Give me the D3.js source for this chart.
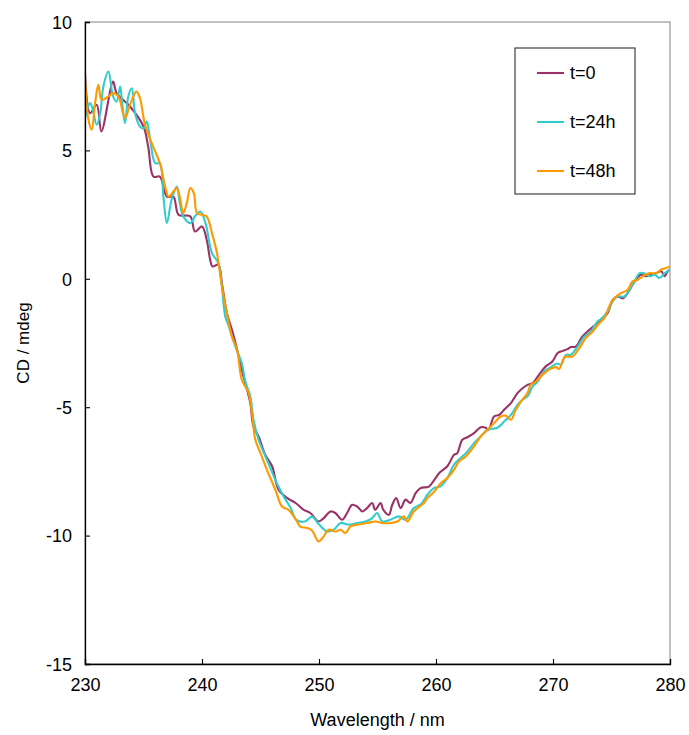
<!DOCTYPE html>
<html><head><meta charset="utf-8">
<script src="https://cdn.jsdelivr.net/npm/d3@7"></script>
<style>body{margin:0;background:#fff}svg{display:block}text{font-family:"Liberation Sans",Arial,sans-serif;fill:#000}</style>
</head><body><svg id="c" width="689" height="735"></svg>
<script>
const seriesNames = ["t=0","t=24h","t=48h"];
const seriesColors = ["#993366","#33CCCC","#FF9900"];
const xTicks = [230,240,250,260,270,280];
const yTicks = [10,5,0,-5,-10,-15];

const wl0 = [230.0,230.43,231.0,231.4,232.4,232.7,233.85,235.0,235.4,235.85,236.4,237.0,237.56,238.0,239.0,239.4,240.0,240.4,240.7,240.9,241.4,241.7,242.13,242.56,243.0,243.4,243.85,244.13,244.4,244.84,245.4,246.0,246.55,247.3,248.0,248.7,249.26,249.97,250.4,250.98,251.4,251.98,252.4,252.83,253.27,253.7,254.1,254.55,254.8,255.26,255.5,255.97,256.26,256.6,256.98,257.4,257.8,258.26,258.68,259.4,259.9,260.3,260.97,261.54,261.8,262.25,262.68,263.25,263.82,264.25,264.5,264.96,265.4,265.82,266.4,266.96,267.4,267.82,268.26,268.8,269.38,269.95,270.38,270.67,271.24,271.52,271.95,272.5,273.1,273.64,274.23,274.66,275.1,275.5,275.96,276.38,276.8,277.2,277.5,277.95,278.4,278.8,279.25,279.55,279.8,280.0];
const cd0 = [8.0,6.45,6.78,5.74,7.68,7.23,6.71,5.93,5.15,3.98,3.98,3.2,3.2,2.49,2.43,1.84,2.04,1.52,0.74,0.48,0.55,-0.17,-1.34,-1.99,-2.76,-3.54,-4.32,-4.84,-5.75,-6.14,-6.85,-7.31,-8.22,-8.54,-8.73,-9.0,-9.12,-9.45,-9.32,-9.06,-9.12,-9.38,-9.12,-8.8,-8.87,-9.06,-8.93,-8.73,-9.0,-8.73,-9.0,-9.19,-8.8,-8.54,-8.93,-8.6,-8.73,-8.35,-8.15,-8.09,-7.8,-7.55,-7.3,-6.85,-6.8,-6.27,-6.17,-6.01,-5.78,-5.8,-5.88,-5.36,-5.3,-5.1,-4.84,-4.45,-4.26,-4.13,-4.06,-3.74,-3.41,-3.22,-2.9,-2.83,-2.74,-2.66,-2.64,-2.25,-1.99,-1.79,-1.53,-1.34,-0.82,-0.69,-0.76,-0.56,-0.23,0.03,0.16,0.1,0.16,0.22,0.29,0.1,0.29,0.36];

const wl24 = [230.0,230.43,230.6,231.0,231.3,231.57,232.0,232.4,232.7,233.0,233.15,233.42,233.7,234.0,234.28,234.7,235.0,235.28,235.57,236.0,236.4,236.7,237.0,237.4,237.85,238.1,238.4,239.0,239.4,239.85,240.3,240.85,241.4,241.7,241.99,242.3,242.85,243.4,243.7,244.13,244.4,244.84,245.55,246.4,246.98,247.55,248.1,248.8,249.4,249.97,250.69,251.26,251.84,252.55,253.27,253.97,254.55,254.97,255.4,256.1,256.83,257.4,258.1,258.75,259.26,259.82,260.35,260.97,261.54,262.1,262.68,263.25,263.82,264.4,265.25,265.82,266.4,266.96,267.4,267.82,268.26,268.7,269.24,269.8,270.38,270.67,271.1,271.52,272.1,272.68,273.25,273.8,274.23,274.66,275.1,275.5,276.1,276.53,276.96,277.4,277.8,278.25,278.7,279.1,279.55,280.0];
const cd24 = [6.26,6.84,6.71,6.0,6.45,7.49,8.07,7.1,6.9,7.49,6.97,6.06,7.1,7.42,6.45,5.93,5.86,6.13,5.41,4.5,4.5,3.2,2.17,3.08,3.59,2.95,2.43,2.17,2.43,2.62,2.17,1.0,0.61,-0.3,-1.47,-1.86,-2.64,-3.28,-4.0,-4.58,-5.49,-6.27,-7.05,-7.96,-8.48,-8.9,-9.4,-9.45,-9.26,-9.55,-9.84,-9.77,-9.51,-9.58,-9.51,-9.45,-9.32,-9.12,-9.45,-9.38,-9.25,-9.38,-8.93,-8.76,-8.41,-8.15,-8.09,-7.76,-7.24,-6.98,-6.73,-6.4,-6.14,-5.88,-5.8,-5.56,-5.3,-4.91,-4.71,-4.58,-4.19,-4.0,-3.61,-3.45,-3.3,-3.35,-2.96,-2.96,-2.64,-2.25,-2.05,-1.66,-1.53,-1.27,-0.88,-0.69,-0.69,-0.43,-0.1,0.22,0.22,0.1,0.16,0.03,0.22,0.36];

const wl48 = [230.0,230.3,230.57,230.86,231.14,231.43,232.0,232.4,232.85,233.42,233.85,234.4,234.7,235.1,235.7,236.4,236.85,237.14,237.56,237.85,238.1,238.4,238.7,239.0,239.3,239.57,240.0,240.4,240.85,241.28,241.7,242.13,242.56,243.0,243.4,243.98,244.27,244.56,245.0,245.55,246.27,246.84,247.4,248.05,248.4,248.97,249.4,249.97,250.4,250.83,251.4,251.84,252.26,252.7,253.27,254.1,254.83,255.4,256.1,256.7,257.26,257.55,258.1,258.97,259.26,259.82,260.4,260.97,261.54,261.97,262.54,263.25,263.82,264.4,264.96,265.54,265.97,266.4,266.82,267.26,267.82,268.1,268.55,269.1,269.67,270.24,270.53,271.0,271.67,272.25,272.8,273.4,273.95,274.4,274.8,275.24,275.8,276.38,276.8,277.24,277.67,278.25,278.8,279.25,279.67,280.0];
const cd48 = [7.81,6.19,5.8,6.84,7.55,6.97,7.1,7.23,7.1,6.26,6.78,7.29,7.03,6.06,5.28,4.5,3.59,3.2,3.4,3.53,3.2,2.56,2.95,3.53,3.34,2.56,2.49,2.43,1.78,1.0,-0.3,-1.34,-2.25,-2.76,-3.93,-4.45,-5.23,-6.27,-6.79,-7.44,-8.22,-8.87,-9.0,-9.4,-9.65,-9.7,-9.8,-10.23,-10.03,-9.77,-9.84,-9.77,-9.9,-9.64,-9.58,-9.51,-9.45,-9.51,-9.51,-9.45,-9.25,-9.45,-9.06,-8.73,-8.54,-8.3,-7.96,-7.76,-7.44,-7.11,-6.92,-6.53,-6.14,-5.88,-5.62,-5.36,-5.33,-5.49,-5.1,-4.78,-4.45,-4.13,-4.0,-3.74,-3.54,-3.44,-3.51,-3.05,-3.02,-2.7,-2.31,-2.05,-1.73,-1.53,-1.08,-0.76,-0.56,-0.43,-0.1,-0.04,0.1,0.22,0.22,0.36,0.42,0.48];

const series = [
  {name: seriesNames[0], color: seriesColors[0], wl: wl0, cd: cd0},
  {name: seriesNames[1], color: seriesColors[1], wl: wl24, cd: cd24},
  {name: seriesNames[2], color: seriesColors[2], wl: wl48, cd: cd48}
];

const svg = d3.select("#c");
const L = 85, R = 670, T = 22, B = 664;
const x = d3.scaleLinear().domain([230,280]).range([L,R]);
const y = d3.scaleLinear().domain([-15,10]).range([B,T]);

// plot area border (gray)
svg.append("rect").attr("x",L).attr("y",T).attr("width",R-L).attr("height",B-T)
  .attr("fill","none").attr("stroke","#a0a0a0").attr("stroke-width",1.3);

// lines
svg.append("clipPath").attr("id","pc").append("rect")
  .attr("x",L).attr("y",T).attr("width",R-L).attr("height",B-T);
const line = d3.line().x(d=>x(d[0])).y(d=>y(d[1])).curve(d3.curveCatmullRom.alpha(0.5));
series.forEach(s=>{
  const pts = s.wl.map((w,i)=>[w,s.cd[i]]);
  svg.append("path").attr("d",line(pts)).attr("fill","none")
    .attr("stroke",s.color).attr("stroke-width",2.1).attr("stroke-linejoin","round")
    .attr("clip-path","url(#pc)");
});

// axes
const fmt = v => String(v);
const xAxis = d3.axisBottom(x).tickValues(xTicks).tickFormat(fmt).tickSize(-5).tickPadding(14);
const yAxis = d3.axisLeft(y).tickValues(yTicks).tickFormat(fmt).tickSize(-5).tickPadding(13);
const gx = svg.append("g").attr("transform",`translate(0,${B})`).call(xAxis);
const gy = svg.append("g").attr("transform",`translate(${L},0)`).call(yAxis);
[gx,gy].forEach(g=>{
  g.select(".domain").attr("stroke","#000").attr("stroke-width",1.3);
  g.selectAll(".tick line").attr("stroke","#000").attr("stroke-width",1.1);
  g.selectAll(".tick text").style("font-size","18px").style("font-family","'Liberation Sans',Arial,sans-serif").attr("fill","#000");
});
gy.selectAll(".tick text").attr("dy","0.35em");

svg.append("text").attr("x",(L+R)/2).attr("y",726).attr("text-anchor","middle")
  .style("font-size","18px").text("Wavelength / nm");
svg.append("text").attr("transform",`translate(29,${(T+B)/2}) rotate(-90)`).attr("text-anchor","middle")
  .style("font-size","17px").text("CD / mdeg");

// legend
const lg = svg.append("g");
lg.append("rect").attr("x",515).attr("y",48).attr("width",120).attr("height",146)
  .attr("fill","#fff").attr("stroke","#404040").attr("stroke-width",1.2);
const legY = [73,122,171];
series.forEach((s,i)=>{
  lg.append("line").attr("x1",537).attr("x2",564).attr("y1",legY[i]).attr("y2",legY[i])
    .attr("stroke",s.color).attr("stroke-width",2.1);
  lg.append("text").attr("x",570).attr("y",legY[i]).attr("dy","0.36em")
    .style("font-size","18px").text(s.name);
});
</script></body></html>
